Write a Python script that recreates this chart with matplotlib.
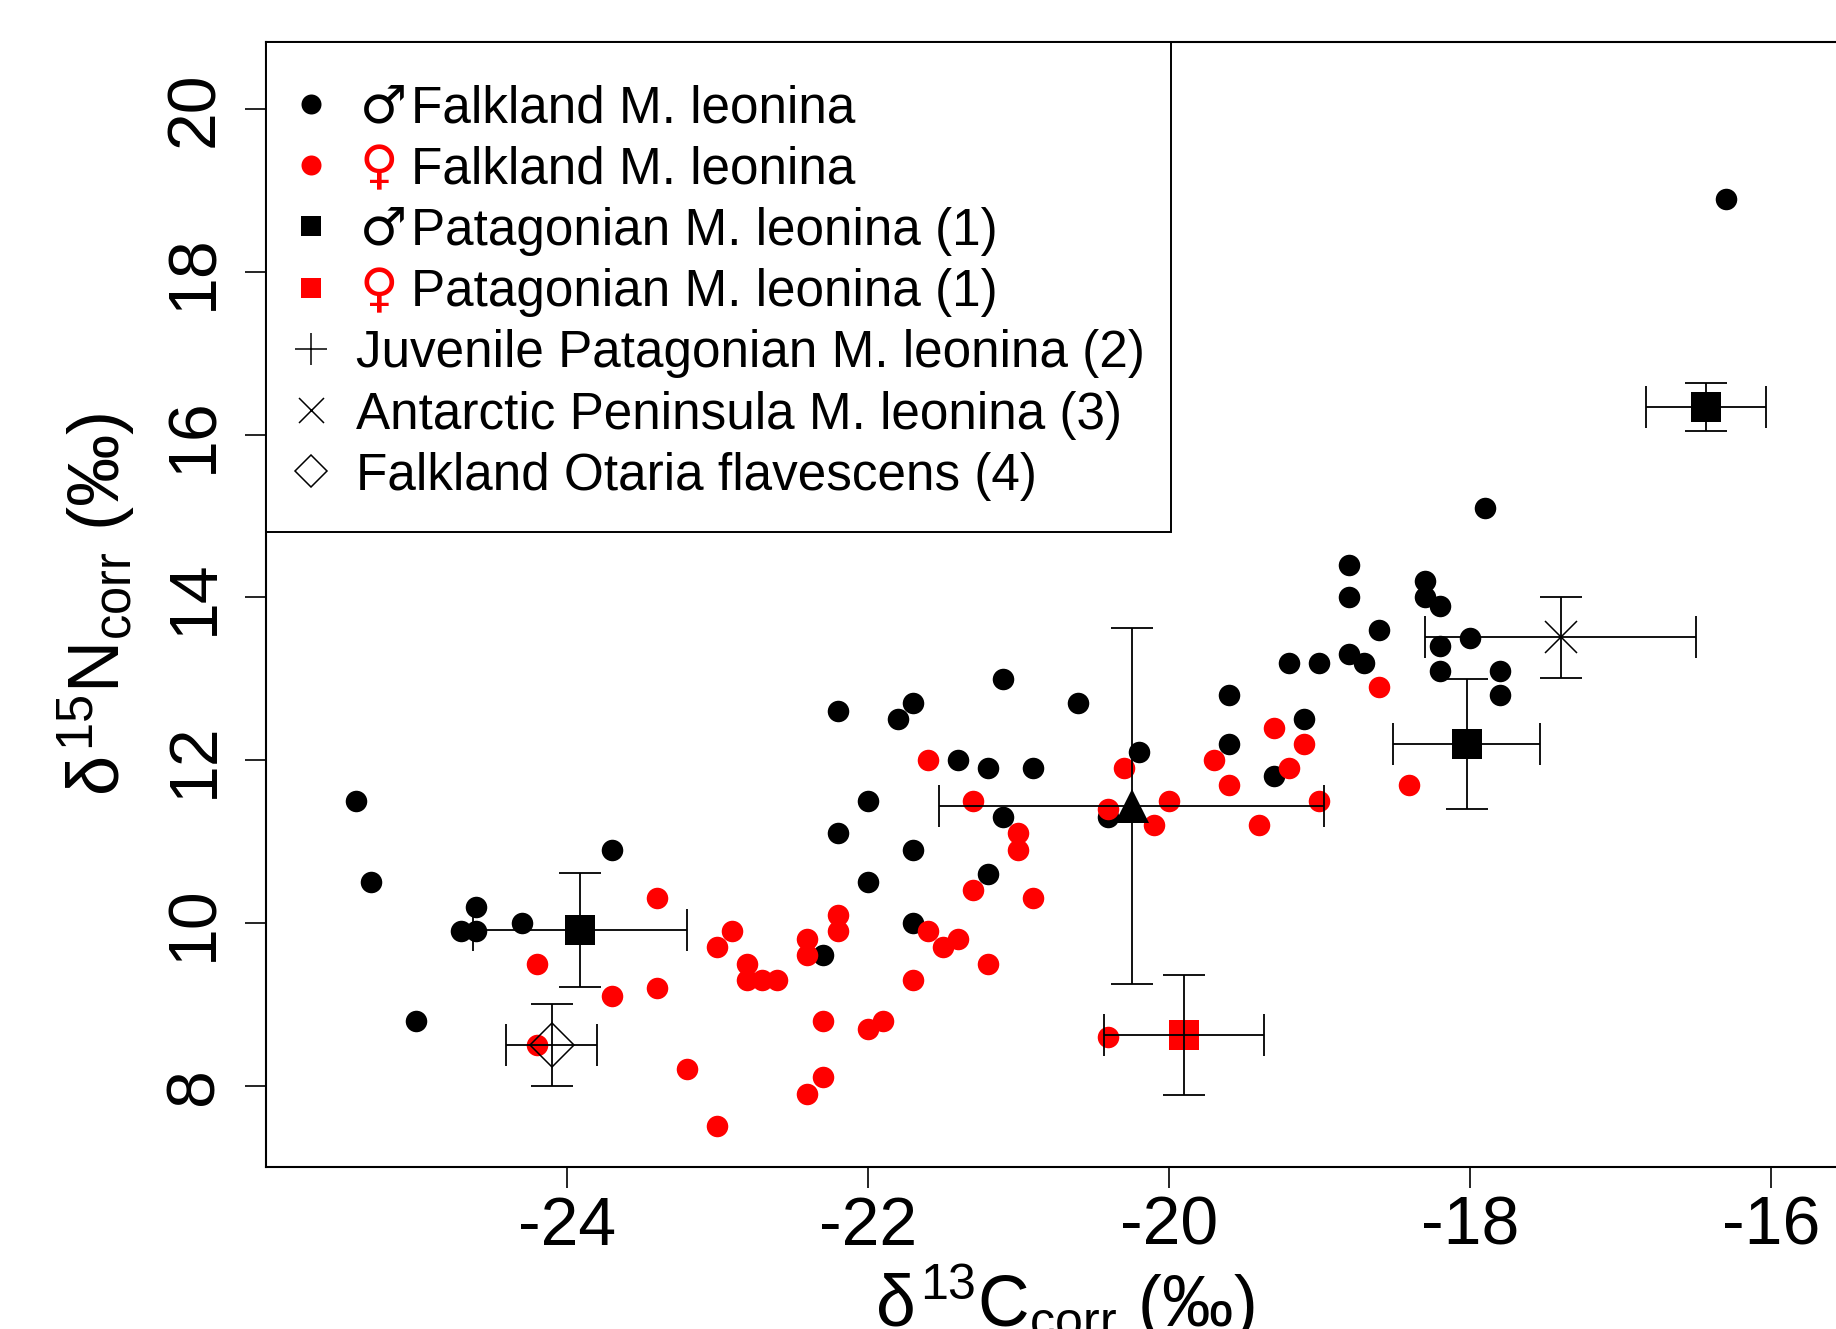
import matplotlib
matplotlib.use('Agg')
import matplotlib.pyplot as plt
from matplotlib.lines import Line2D
from matplotlib.patches import Rectangle

plt.rcParams['font.family'] = ['Liberation Sans', 'DejaVu Sans']
plt.rcParams['mathtext.fontset'] = 'custom'
plt.rcParams['mathtext.rm'] = 'Liberation Sans'
plt.rcParams['mathtext.it'] = 'Liberation Sans'
plt.rcParams['mathtext.bf'] = 'Liberation Sans:bold'

# ---------------- data ----------------
male_x = [-25.4, -25.3, -25.0, -24.7, -24.6, -24.6, -24.3, -23.7, -22.3, -22.2,
          -22.2, -22.0, -22.0, -21.8, -21.7, -21.7, -21.7, -21.4, -21.2, -21.2,
          -21.1, -21.1, -20.9, -20.6, -20.4, -20.2, -19.6, -19.6, -19.3, -19.2,
          -19.1, -19.0, -18.8, -18.8, -18.8, -18.7, -18.6, -18.3, -18.3, -18.2,
          -18.2, -18.2, -18.0, -17.9, -17.8, -17.8, -16.3]
male_y = [11.5, 10.5, 8.8, 9.9, 9.9, 10.2, 10.0, 10.9, 9.6, 12.6,
          11.1, 11.5, 10.5, 12.5, 12.7, 10.9, 10.0, 12.0, 11.9, 10.6,
          13.0, 11.3, 11.9, 12.7, 11.3, 12.1, 12.8, 12.2, 11.8, 13.2,
          12.5, 13.2, 14.4, 14.0, 13.3, 13.2, 13.6, 14.2, 14.0, 13.9,
          13.4, 13.1, 13.5, 15.1, 13.1, 12.8, 18.9]

female_x = [-24.2, -24.2, -23.7, -23.4, -23.4, -23.2, -23.0, -23.0, -22.9, -22.8,
            -22.8, -22.7, -22.6, -22.4, -22.4, -22.4, -22.3, -22.3, -22.2, -22.2,
            -22.0, -21.9, -21.7, -21.6, -21.6, -21.5, -21.4, -21.3, -21.3, -21.2,
            -21.0, -21.0, -20.9, -20.4, -20.4, -20.3, -20.1, -20.0, -19.7, -19.6,
            -19.4, -19.3, -19.2, -19.1, -19.0, -18.6, -18.4]
female_y = [9.5, 8.5, 9.1, 10.3, 9.2, 8.2, 9.7, 7.5, 9.9, 9.5,
            9.3, 9.3, 9.3, 9.8, 9.6, 7.9, 8.8, 8.1, 10.1, 9.9,
            8.7, 8.8, 9.3, 12.0, 9.9, 9.7, 9.8, 11.5, 10.4, 9.5,
            11.1, 10.9, 10.3, 11.4, 8.6, 11.9, 11.2, 11.5, 12.0, 11.7,
            11.2, 12.4, 11.9, 12.2, 11.5, 12.9, 11.7]

pat_male_x = [-23.91, -18.02, -16.43]
pat_male_y = [9.91, 12.20, 16.34]
pat_male_xerr = [0.71, 0.49, 0.40]
pat_male_yerr = [0.70, 0.80, 0.29]

pat_female_x = [-19.90]
pat_female_y = [8.625]
pat_female_xerr = [0.53]
pat_female_yerr = [0.74]

tri_x = [-20.245]
tri_y = [11.44]
tri_xerr = [1.28]
tri_yerr = [2.19]

antarctic_x = [-17.395]
antarctic_y = [13.51]
antarctic_xerr = [0.90]
antarctic_yerr = [0.50]

otaria_x = [-24.10]
otaria_y = [8.50]
otaria_xerr = [0.30]
otaria_yerr = [0.50]

x_ticks = [-24, -22, -20, -18, -16]
y_ticks = [8, 10, 12, 14, 16, 18, 20]

legend_symbols = ['\u2642', '\u2640', '\u2642', '\u2640', '', '', '']
legend_symbol_colors = ['black', 'red', 'black', 'red', 'black', 'black', 'black']
legend_labels = ['Falkland M. leonina', 'Falkland M. leonina',
                 'Patagonian M. leonina (1)', 'Patagonian M. leonina (1)',
                 'Juvenile Patagonian M. leonina (2)',
                 'Antarctic Peninsula M. leonina (3)',
                 'Falkland Otaria flavescens (4)']

# ---------------- figure ----------------
W, H = 1836, 1329
fig = plt.figure(figsize=(W / 100, H / 100), dpi=100)


def fx(px):
    return px / W


def fy(py):
    return 1 - py / H


ax_left, ax_top, ax_bottom, ax_right = 265.7, 41.7, 1167.0, 1864.0
ax = fig.add_axes([fx(ax_left), fy(ax_bottom), (ax_right - ax_left) / W,
                   (ax_bottom - ax_top) / H])
ax.set_xlim(-26.0, -15.38)
ax.set_ylim(7.0, 20.83)

LW = 1.3
# individual points
ax.plot(male_x, male_y, 'o', color='black', ms=15.5, mew=0, zorder=2)
ax.plot(female_x, female_y, 'o', color='red', ms=15.5, mew=0, zorder=2)

# group means (markers below error bars)
ax.plot(pat_male_x, pat_male_y, 's', color='black', ms=21.6, mew=0, zorder=3)
ax.plot(pat_female_x, pat_female_y, 's', color='red', ms=21.6, mew=0, zorder=3)
ax.plot(tri_x, tri_y, '^', color='black', ms=24, mew=0, zorder=3)
ax.plot(antarctic_x, antarctic_y, 'x', color='black', ms=23, mew=1.1, zorder=3)
ax.plot(otaria_x, otaria_y, 'D', mfc='none', mec='black', ms=22.5, mew=1.1, zorder=3)

eb_kw = dict(fmt='none', ecolor='black', elinewidth=LW, capsize=14.8,
             capthick=LW, zorder=4)
ax.errorbar(pat_male_x, pat_male_y, xerr=pat_male_xerr, yerr=pat_male_yerr, **eb_kw)
ax.errorbar(pat_female_x, pat_female_y, xerr=pat_female_xerr, yerr=pat_female_yerr, **eb_kw)
ax.errorbar(tri_x, tri_y, xerr=tri_xerr, yerr=tri_yerr, **eb_kw)
ax.errorbar(antarctic_x, antarctic_y, xerr=antarctic_xerr, yerr=antarctic_yerr, **eb_kw)
ax.errorbar(otaria_x, otaria_y, xerr=otaria_xerr, yerr=otaria_yerr, **eb_kw)

# axes styling
for side in ['left', 'bottom', 'top']:
    ax.spines[side].set_linewidth(1.5)
ax.spines['right'].set_visible(False)
ax.set_xticks(x_ticks)
ax.set_yticks(y_ticks)
ax.set_xticklabels([str(v) for v in x_ticks])
ax.set_yticklabels([str(v) for v in y_ticks])
ax.tick_params(axis='both', direction='out', length=15, width=1.2, labelsize=49)
ax.tick_params(axis='x', pad=5)
ax.tick_params(axis='y', pad=13, labelrotation=90)
for lbl in ax.get_yticklabels():
    lbl.set_va('center')

ax.set_xlabel(r'$\delta^{13}\mathrm{C}_{\mathrm{corr}}$ (‰)', fontsize=51.5)
ax.xaxis.label.set_va('baseline')
ax.xaxis.set_label_coords(0.5, (ax_bottom - 1327) / (ax_bottom - ax_top))
ax.set_ylabel(r'$\delta^{15}\mathrm{N}_{\mathrm{corr}}$ (‰)', fontsize=52)
ax.yaxis.label.set_va('baseline')
ax.yaxis.set_label_coords((120 - ax_left) / (ax_right - ax_left), 0.5)

# ---------------- legend (drawn like R's legend box) ----------------
leg_left, leg_top, leg_right, leg_bottom = 265.9, 41.7, 1170.8, 531.7
fig.add_artist(Rectangle((fx(leg_left), fy(leg_bottom)),
                         (leg_right - leg_left) / W, (leg_bottom - leg_top) / H,
                         transform=fig.transFigure, fill=True, facecolor='white',
                         edgecolor='black', lw=1.4, zorder=5))

handle_styles = [
    dict(marker='o', color='black', ms=14.4, mew=0),
    dict(marker='o', color='red', ms=14.4, mew=0),
    dict(marker='s', color='black', ms=14.0, mew=0),
    dict(marker='s', color='red', ms=14.0, mew=0),
    dict(marker='+', color='black', ms=23.5, mew=1.1),
    dict(marker='x', color='black', ms=18, mew=1.1),
    dict(marker='D', mfc='none', mec='black', ms=16.8, mew=1.1),
]
LEG_FS = 36.9
row_step = 61.2
for i, (sym, scol, lab, hs) in enumerate(zip(legend_symbols, legend_symbol_colors,
                                              legend_labels, handle_styles)):
    base = 122.5 + i * row_step
    cy = base - 18.5
    fig.add_artist(Line2D([fx(311)], [fy(cy)], linestyle='none',
                          transform=fig.transFigure, zorder=6, **hs))
    if sym:
        fig.text(fx(360), fy(base), sym, color=scol, fontsize=38,
                 family=['DejaVu Sans'], va='baseline', ha='left', zorder=6)
        fig.text(fx(411), fy(base), lab, color='black', fontsize=LEG_FS,
                 va='baseline', ha='left', zorder=6)
    else:
        fig.text(fx(356), fy(base), lab, color='black', fontsize=LEG_FS,
                 va='baseline', ha='left', zorder=6)

fig.savefig('out.png', dpi=100)
